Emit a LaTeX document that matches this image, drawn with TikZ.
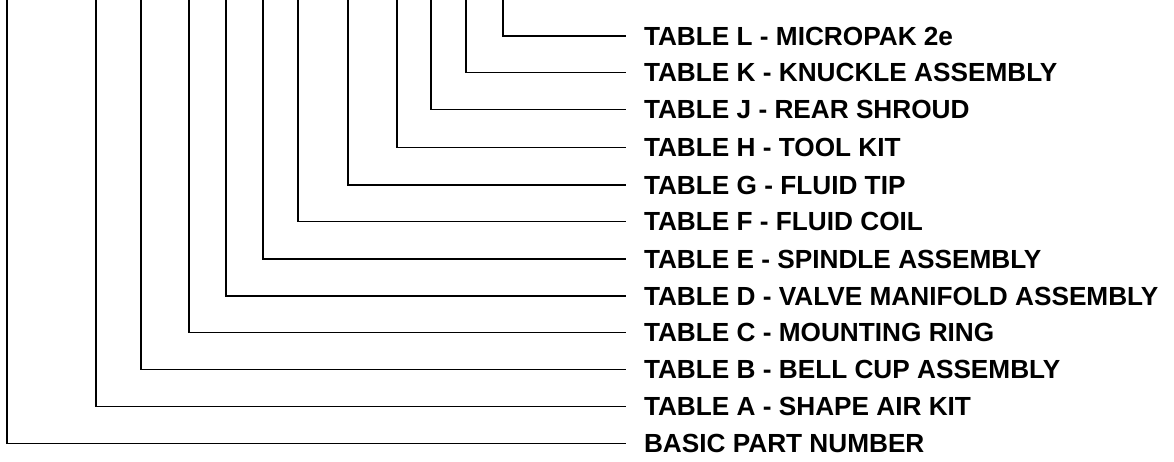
\documentclass[tikz,border=0pt]{standalone}
\usepackage{fontspec}
\setmainfont{Liberation Sans}
\usetikzlibrary{positioning}

\tikzset{
	tbl/.style={anchor=west, inner sep=0pt, outer xsep=18pt, font=\bfseries\fontsize{26.2}{30}\selectfont},
	lead/.style={line width=1.8pt}
}

\begin{document}
\begin{tikzpicture}[x=1pt,y=-1pt]
	\useasboundingbox (0,0) rectangle (1174,462);
	
	\coordinate (topL) at (503,0);
	\coordinate (topK) at (466,0);
	\coordinate (topJ) at (431,0);
	\coordinate (topH) at (397,0);
	\coordinate (topG) at (348,0);
	\coordinate (topF) at (298,0);
	\coordinate (topE) at (263,0);
	\coordinate (topD) at (226,0);
	\coordinate (topC) at (189,0);
	\coordinate (topB) at (141,0);
	\coordinate (topA) at (96,0);
	\coordinate (topBasic) at (7,0);
	
	\node (tblL)[tbl] at (626,36) {TABLE L - MICROPAK 2e};
	\node (tblK)[tbl] at (626,72.5) {TABLE K - KNUCKLE ASSEMBLY};
	\node (tblJ)[tbl] at (626,109.5) {TABLE J - REAR SHROUD};
	\node (tblH)[tbl] at (626,147.5) {TABLE H - TOOL KIT};
	\node (tblG)[tbl] at (626,185) {TABLE G - FLUID TIP};
	\node (tblF)[tbl] at (626,221.5) {TABLE F - FLUID COIL};
	\node (tblE)[tbl] at (626,259) {TABLE E - SPINDLE ASSEMBLY};
	\node (tblD)[tbl] at (626,296) {TABLE D - VALVE MANIFOLD ASSEMBLY};
	\node (tblC)[tbl] at (626,332.5) {TABLE C - MOUNTING RING};
	\node (tblB)[tbl] at (626,369.5) {TABLE B - BELL CUP ASSEMBLY};
	\node (tblA)[tbl] at (626,406.5) {TABLE A - SHAPE AIR KIT};
	\node (basic)[tbl] at (626,443.5) {BASIC PART NUMBER};
	
	\draw[lead] (topL) |- (tblL.west);
	\draw[lead] (topK) |- (tblK.west);
	\draw[lead] (topJ) |- (tblJ.west);
	\draw[lead] (topH) |- (tblH.west);
	\draw[lead] (topG) |- (tblG.west);
	\draw[lead] (topF) |- (tblF.west);
	\draw[lead] (topE) |- (tblE.west);
	\draw[lead] (topD) |- (tblD.west);
	\draw[lead] (topC) |- (tblC.west);
	\draw[lead] (topB) |- (tblB.west);
	\draw[lead] (topA) |- (tblA.west);
	\draw[lead] (topBasic) |- (basic.west);
\end{tikzpicture}
\end{document}
